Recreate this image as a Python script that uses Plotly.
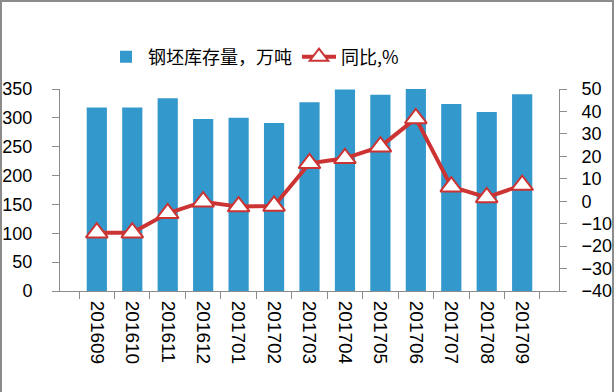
import plotly.graph_objects as go

months = ["201609", "201610", "201611", "201612", "201701", "201702", "201703",
          "201704", "201705", "201706", "201707", "201708", "201709"]
stock = [318, 318, 334, 298, 300, 291, 327, 349, 340, 351, 324, 310, 341]
yoy = [-14.0, -14.0, -5.4, -0.2, -2.4, -2.1, 16.9, 19.1, 24.3, 36.9, 6.5, 1.7, 7.2]

left_ticks = [0, 50, 100, 150, 200, 250, 300, 350]
right_ticks = [-40, -30, -20, -10, 0, 10, 20, 30, 40, 50]

BLUE = "#3399CC"
RED = "#CC3333"
AXIS = "#8C8C8C"
FONT = "Liberation Sans, Noto Sans CJK SC, sans-serif"
CJK = "Noto Sans CJK SC, Liberation Sans, sans-serif"

fig = go.Figure()
fig.add_trace(go.Bar(
    x=months, y=stock, name="钢坯库存量，万吨",
    marker=dict(color=BLUE, line=dict(width=0)),
))
fig.add_trace(go.Scatter(
    x=months, y=yoy, name="同比,%", yaxis="y2", mode="lines+markers",
    line=dict(color=RED, width=4),
    marker=dict(symbol="triangle-up", size=19, color="white",
                line=dict(color=RED, width=2)),
))

W, H = 614, 392
L, R, T, B = 60, 55, 89, 101
pw = W - L - R
ph = H - T - B


def px_x(p):
    return (p - L) / pw


def px_y(p):
    return 1 - (p - T) / ph


border = dict(color="#8C8C8C", width=2)
shapes = [
    dict(type="line", xref="paper", yref="paper", x0=px_x(1), x1=px_x(1),
         y0=px_y(0), y1=px_y(H), line=border),
    dict(type="line", xref="paper", yref="paper", x0=px_x(613), x1=px_x(613),
         y0=px_y(0), y1=px_y(H), line=border),
    dict(type="line", xref="paper", yref="paper", x0=px_x(0), x1=px_x(W),
         y0=px_y(1), y1=px_y(1), line=border),
]

fig.update_layout(
    width=W, height=H,
    margin=dict(l=L, r=R, t=T, b=B, pad=0, autoexpand=False),
    paper_bgcolor="white", plot_bgcolor="white",
    font=dict(family=FONT, size=18, color="black"),
    bargap=0.43,
    showlegend=True,
    legend=dict(orientation="h", xref="container", x=104 / W, xanchor="left",
                yref="container", y=1 - 57 / H, yanchor="middle",
                font=dict(size=18, family=CJK), itemwidth=34,
                bgcolor="rgba(0,0,0,0)"),
    xaxis=dict(type="category", tickangle=90, showgrid=False, automargin=False,
               showline=True, linecolor=AXIS, linewidth=1,
               ticks="outside", tickson="boundaries", ticklen=7, tickcolor=AXIS,
               tickfont=dict(size=19), ticklabelstandoff=5),
    yaxis=dict(range=[0, 350], tickvals=left_ticks, showgrid=False, automargin=False,
               showline=True, linecolor=AXIS, linewidth=1,
               ticks="outside", ticklen=7, tickcolor=AXIS,
               tickfont=dict(size=18), ticklabelstandoff=16, zeroline=False),
    yaxis2=dict(range=[-40, 50], tickvals=right_ticks, overlaying="y", side="right",
                showgrid=False, showline=True, linecolor=AXIS, linewidth=1,
                automargin=False,
                ticks="outside", ticklen=7, tickcolor=AXIS,
                tickfont=dict(size=18), ticklabelstandoff=11, zeroline=False),
    shapes=shapes,
)

fig.write_html(
    "out.html",
    config={"displayModeBar": False},
    post_script="document.body.style.margin='0px';document.body.style.overflow='hidden';",
)
